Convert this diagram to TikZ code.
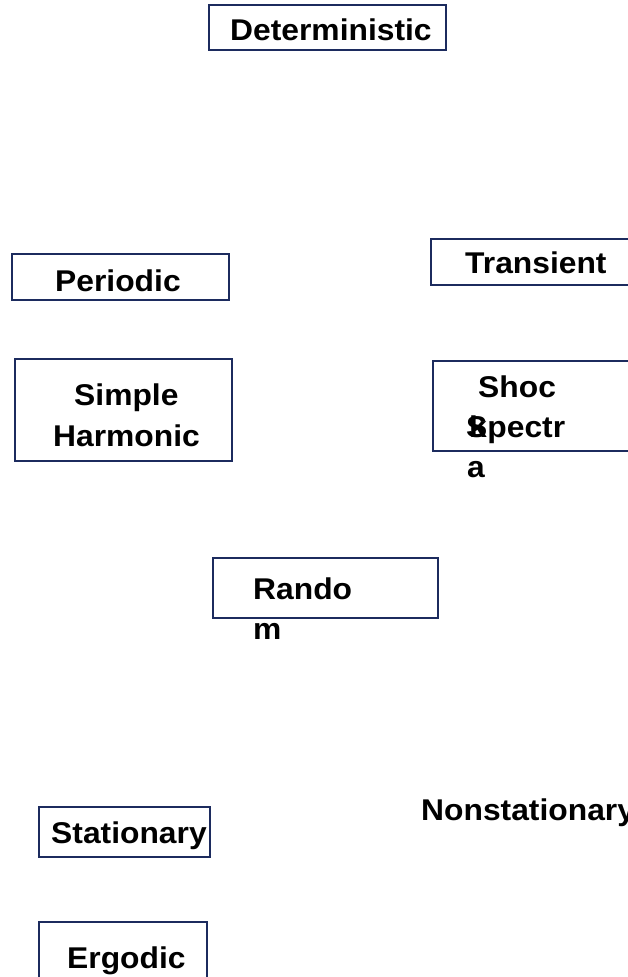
\documentclass[tikz,border=0pt]{standalone}
\usepackage{fontspec}
\setmainfont{Liberation Sans}[FakeStretch=1.06]
\definecolor{boxline}{HTML}{1C2B5E}
\begin{document}
\begin{tikzpicture}[x=1pt,y=-1pt,
  box/.style={draw=boxline,line width=1.5pt},
  lbl/.style={anchor=base west,inner sep=0pt,font=\fontsize{30}{36}\selectfont\bfseries}]
\useasboundingbox (0,0) rectangle (628,977);
\clip (0,0) rectangle (628,977);
\fill[white] (0,0) rectangle (628,977);
% boxes
\draw[box] (209,5) rectangle (446,50);
\draw[box] (431,239) rectangle (660,285);
\draw[box] (12,254) rectangle (229,300);
\draw[box] (15,359) rectangle (232,461);
\draw[box] (433,361) rectangle (660,451);
\draw[box] (213,558) rectangle (438,618);
\draw[box] (39,807) rectangle (210,857);
\draw[box] (39,922) rectangle (207,1000);
% texts
\node[lbl] (det) at (230,40) {Deterministic};
\node[lbl] (trans) at (465,273) {Transient};
\node[lbl] (per) at (55,291) {Periodic};
\node[lbl] (sh1) at (74,405) {Simple};
\node[lbl] (sh2) at (53,446) {Harmonic};
\node[lbl] (sk1) at (478,397) {Shoc};
\node[lbl] (sk2) at (469,437) {k};
\node[lbl] (sk3) at (466,437) {Spectr};
\node[lbl] (sk4) at (467,477) {a};
\node[lbl] (rnd1) at (253,599) {Rando};
\node[lbl] (rnd2) at (253,639) {m};
\node[lbl] (stat) at (51,843) {Stationary};
\node[lbl] (nonst) at (421,820) {Nonstationary};
\node[lbl] (erg) at (67,968) {Ergodic};
\end{tikzpicture}
\end{document}
